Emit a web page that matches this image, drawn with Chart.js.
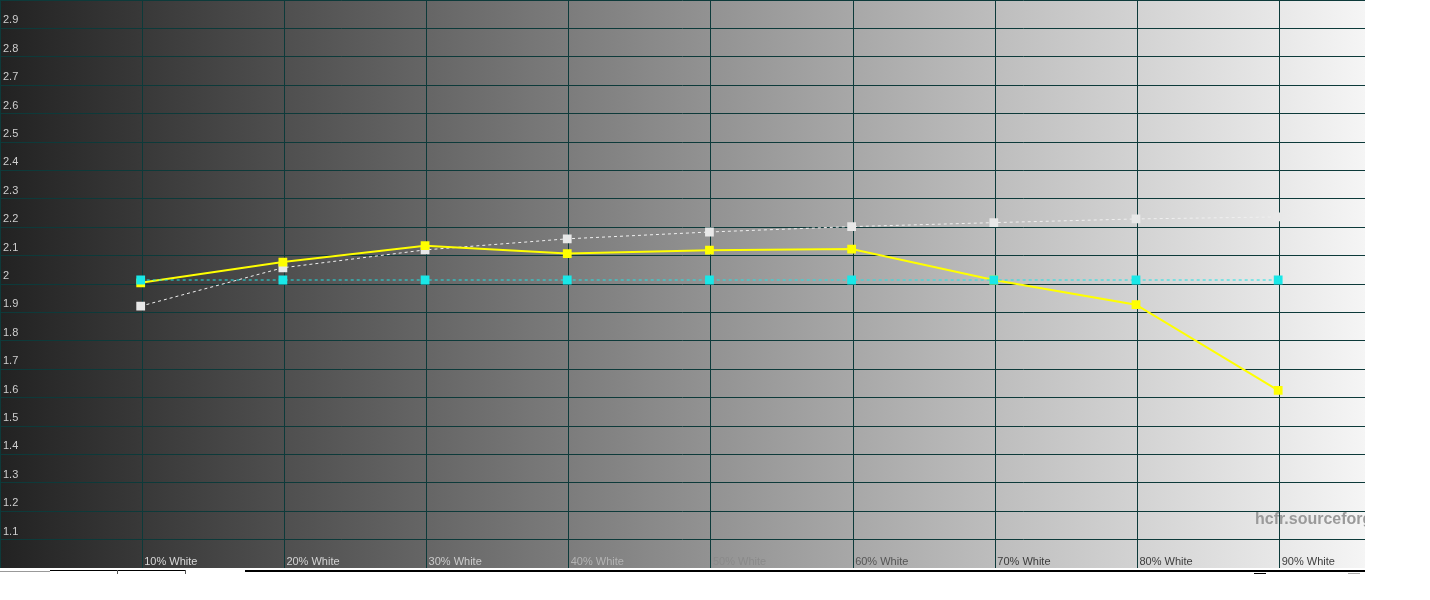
<!DOCTYPE html>
<html>
<head>
<meta charset="utf-8">
<script src="https://cdn.jsdelivr.net/npm/chart.js@4.4.1/dist/chart.umd.min.js"></script>
<style>
  html, body { margin: 0; padding: 0; background: #fff; }
  body { width: 1430px; height: 600px; position: relative; overflow: hidden; }
  #wrap { position: absolute; left: 0; top: 0; width: 1365px; height: 568px; }
  .bar { position: absolute; background: #000; height: 1px; }
  .tick { position: absolute; background: #555; width: 1px; height: 4px; }
</style>
</head>
<body>
<div id="wrap"><canvas id="gammaChart"></canvas></div>
<div class="bar" style="left:50px; top:570px; width:135px;"></div>
<div class="bar" style="left:0px; top:571px; width:50px; background:#999;"></div>
<div class="tick" style="left:117px; top:570px;"></div>
<div class="tick" style="left:185px; top:570px;"></div>
<div class="bar" style="left:245px; top:570px; width:1120px; height:2px;"></div>
<div class="bar" style="left:1254px; top:573px; width:12px;"></div>
<div class="bar" style="left:1348px; top:573px; width:12px; background:#aaa;"></div>
<script>
// grey levels on the x axis and their labels
const levels = [10, 20, 30, 40, 50, 60, 70, 80, 90];
const categories = ['10% White', '20% White', '30% White', '40% White', '50% White',
  '60% White', '70% White', '80% White', '90% White'];

// gamma per level
const measuredGamma = [1.99, 2.063, 2.121, 2.093, 2.105, 2.109, 2.0, 1.913, 1.611];
const referenceGamma = [1.908, 2.043, 2.106, 2.145, 2.169, 2.188, 2.202, 2.215, 2.222];
const targetGamma = [2.0, 2.0, 2.0, 2.0, 2.0, 2.0, 2.0, 2.0, 2.0];

const yTickValues = [1.0, 1.1, 1.2, 1.3, 1.4, 1.5, 1.6, 1.7, 1.8, 1.9, 2.0,
  2.1, 2.2, 2.3, 2.4, 2.5, 2.6, 2.7, 2.8, 2.9, 3.0];

const labelColors = ['#d9d9d9', '#d4d4d4', '#cccccc', '#b4b4b4', '#8a8a8a',
  '#555555', '#3c3c3c', '#3c3c3c', '#3c3c3c'];

const toPoints = arr => arr.map((v, i) => ({ x: levels[i], y: v }));

// axes take no room: the plot fills the whole canvas
const noRoom = s => {
  if (s.isHorizontal()) s.height = 0; else s.width = 0;
  s.paddingTop = s.paddingBottom = s.paddingLeft = s.paddingRight = 0;
};

const greyBackground = {
  id: 'greyBackground',
  beforeDraw(chart) {
    const { ctx, chartArea: a } = chart;
    const g = ctx.createLinearGradient(a.left, 0, a.right, 0);
    g.addColorStop(0, '#222222');
    g.addColorStop(0.5, '#8e8e8e');
    g.addColorStop(1, '#f5f5f5');
    ctx.save();
    ctx.fillStyle = g;
    ctx.fillRect(a.left, a.top, a.right - a.left, a.bottom - a.top);
    ctx.font = 'bold 16px "Liberation Sans", Arial, sans-serif';
    ctx.fillStyle = '#9a9a9a';
    ctx.textBaseline = 'middle';
    ctx.fillText('hcfr.sourceforge.net', 1255, 520);
    ctx.restore();
  },
  // series are drawn a few pixels up-left of the grid, like the original
  beforeDatasetsDraw(chart) {
    chart.ctx.save();
    chart.ctx.translate(-1.5, -4);
  },
  afterDatasetsDraw(chart) {
    chart.ctx.restore();
  },
  afterDraw(chart) {
    const { ctx, chartArea: a } = chart;
    const xs = chart.scales.x;
    ctx.save();
    ctx.font = '11px "Liberation Sans", Arial, sans-serif';
    ctx.textBaseline = 'alphabetic';
    ctx.textAlign = 'left';
    categories.forEach((c, i) => {
      ctx.fillStyle = labelColors[i];
      ctx.fillText(c, xs.getPixelForValue(levels[i]) + 2, a.bottom - 3);
    });
    ctx.restore();
  }
};

new Chart(document.getElementById('gammaChart'), {
  type: 'line',
  data: {
    datasets: [
      {
        label: 'Target',
        data: toPoints(targetGamma),
        borderColor: '#1ee4e4',
        backgroundColor: '#19e8e8',
        borderWidth: 1,
        borderDash: [3, 3],
        pointStyle: 'rect',
        pointRadius: 6.2,
        pointBorderWidth: 0,
        order: 1,
      },
      {
        label: 'Measured',
        data: toPoints(measuredGamma),
        borderColor: '#ffff00',
        backgroundColor: '#ffff00',
        borderWidth: 2,
        pointStyle: 'rect',
        pointRadius: 6.2,
        pointBorderWidth: 0,
        order: 2,
      },
      {
        label: 'Reference',
        data: toPoints(referenceGamma),
        borderColor: '#f0f0f0',
        backgroundColor: '#e8e8e8',
        borderWidth: 1,
        borderDash: [3, 3],
        pointStyle: 'rect',
        pointRadius: 6.2,
        pointBorderWidth: 0,
        order: 3,
      },
    ],
  },
  options: {
    responsive: true,
    maintainAspectRatio: false,
    animation: false,
    layout: { padding: 0, autoPadding: false },
    plugins: { legend: { display: false }, tooltip: { enabled: false } },
    scales: {
      x: {
        type: 'linear',
        min: 0,
        max: 96,
        afterBuildTicks: s => { s.ticks = [0].concat(levels).map(v => ({ value: v })); },
        afterFit: noRoom,
        grid: { color: '#0d3a3a', lineWidth: 1, drawTicks: false },
        border: { display: false },
        ticks: { display: false },
      },
      y: {
        min: 1,
        max: 3,
        afterBuildTicks: s => { s.ticks = yTickValues.map(v => ({ value: v })); },
        afterFit: noRoom,
        grid: { color: '#0d3a3a', lineWidth: 1, drawTicks: false },
        border: { display: false },
        ticks: {
          mirror: true,
          padding: 3,
          labelOffset: -8,
          color: '#cfcfcf',
          font: { family: '"Liberation Sans", Arial, sans-serif', size: 11 },
          callback: v => (v <= 1.0 || v >= 3.0 ? '' : String(Math.round(v * 10) / 10)),
        },
      },
    },
  },
  plugins: [greyBackground],
});
</script>
</body>
</html>
